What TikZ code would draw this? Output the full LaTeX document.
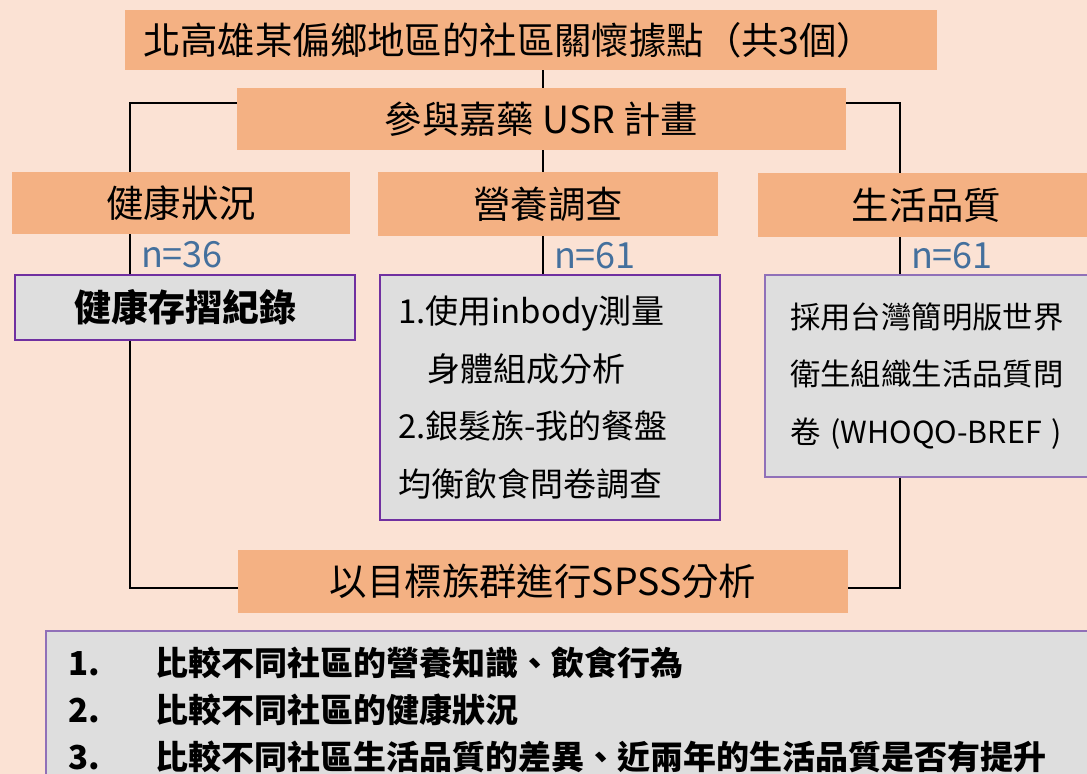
\documentclass[tikz,border=0pt]{standalone}
\usepackage{fontspec}
\setmainfont{Noto Sans CJK TC}
\definecolor{peach}{HTML}{FBE2D4}
\definecolor{salmon}{HTML}{F4B183}
\definecolor{panel}{HTML}{DEDEDE}
\definecolor{edge}{HTML}{7030A0}
\definecolor{edgelight}{HTML}{9070B8}
\definecolor{nblue}{HTML}{44709D}
\begin{document}
\begin{tikzpicture}[x=0.5pt,y=-0.5pt,
 head/.style={fill=salmon,inner sep=0pt,font=\fontsize{18.7}{22}\selectfont},
 card/.style={fill=panel,draw=edge,line width=1pt,inner sep=0pt},
 nlab/.style={text=nblue,font=\fontsize{18}{20}\selectfont,inner sep=0pt,right=5pt},
 link/.style={line width=1pt}]
 \useasboundingbox (0,0) rectangle (1087,774);
 \fill[peach] (0,0) rectangle (1087,774);
 \clip (0,0) rectangle (1087,774);
 \node[head,minimum height=30pt,text width=388pt,inner xsep=9pt,align=left] (site) at (531,40) {北高雄某偏鄉地區的社區關懷據點（共3個）};
 \node[head,minimum width=304.5pt,minimum height=31pt] (usr) at (541.5,119) {參與嘉藥 USR 計畫};
 \node[head,minimum width=169pt,minimum height=31pt] (health) at (181,203) {健康狀況};
 \node[head,minimum width=170pt,minimum height=32pt] (diet) at (548,204) {營養調查};
 \node[head,minimum width=168.5pt,minimum height=32pt] (life) at (926.5,205) {生活品質};
 \node[card,minimum width=170pt,minimum height=32.5pt,font=\bfseries\fontsize{18.5}{22}\selectfont] (record) at (185,307.5) {健康存摺紀錄};
 \node[card,minimum height=122.5pt,text width=152pt,inner xsep=9pt,align=left,font=\fontsize{16.5}{28.75}\selectfont] (survey) at (550,397.5) {1.使用inbody測量\\\hspace*{0.9em}身體組成分析\\2.銀髮族-我的餐盤\\均衡飲食問卷調查};
 \node[card,draw=edgelight,line width=0.7pt,minimum height=101pt,text width=155pt,inner xsep=12.5pt,align=left,font=\fontsize{15.2}{28.75}\selectfont] (rating) at (945,376) {採用台灣簡明版世界\\衛生組織生活品質問\\卷 (WHOQO-BREF )};
 \node[head,minimum width=305pt,minimum height=31.5pt] (spss) at (543,581.5) {以目標族群進行SPSS分析};
 \node[card,draw=edgelight,line width=0.8pt,anchor=north west,text width=540pt,inner xsep=11.5pt,inner ysep=8pt,align=left,font=\bfseries\fontsize{16.5}{23.5}\selectfont] (aims) at (45,630) {\makebox[43.5pt][l]{1.}比較不同社區的營養知識、飲食行為\\\makebox[43.5pt][l]{2.}比較不同社區的健康狀況\\\makebox[43.5pt][l]{3.}比較不同社區生活品質的差異、近兩年的生活品質是否有提升};
 \coordinate (lbend) at (130,103);
 \coordinate (rbend) at (900,103);
 \coordinate (lfoot) at (130,588);
 \coordinate (rfoot) at (900,588);
 \coordinate (spine) at (543,0);
 \draw[link] (site.south -| spine) -- (usr.north -| spine);
 \draw[link] (usr.south -| spine) -- (diet.north -| spine);
 \draw[link] (diet.south -| spine) -- node[nlab] {n=61} (survey.north -| spine);
 \draw[link] (usr.west |- lbend) -- (lbend) -- (health.north -| lbend);
 \draw[link] (health.south -| lbend) -- node[nlab] {n=36} (record.north -| lbend);
 \draw[link] (record.south -| lbend) -- (lfoot) -- (spss.west |- lfoot);
 \draw[link] (usr.east |- rbend) -- (rbend) -- (life.north -| rbend);
 \draw[link] (life.south -| rbend) -- node[nlab] {n=61} (rating.north -| rbend);
 \draw[link] (rating.south -| rbend) -- (rfoot) -- (spss.east |- rfoot);
\end{tikzpicture}
\end{document}
